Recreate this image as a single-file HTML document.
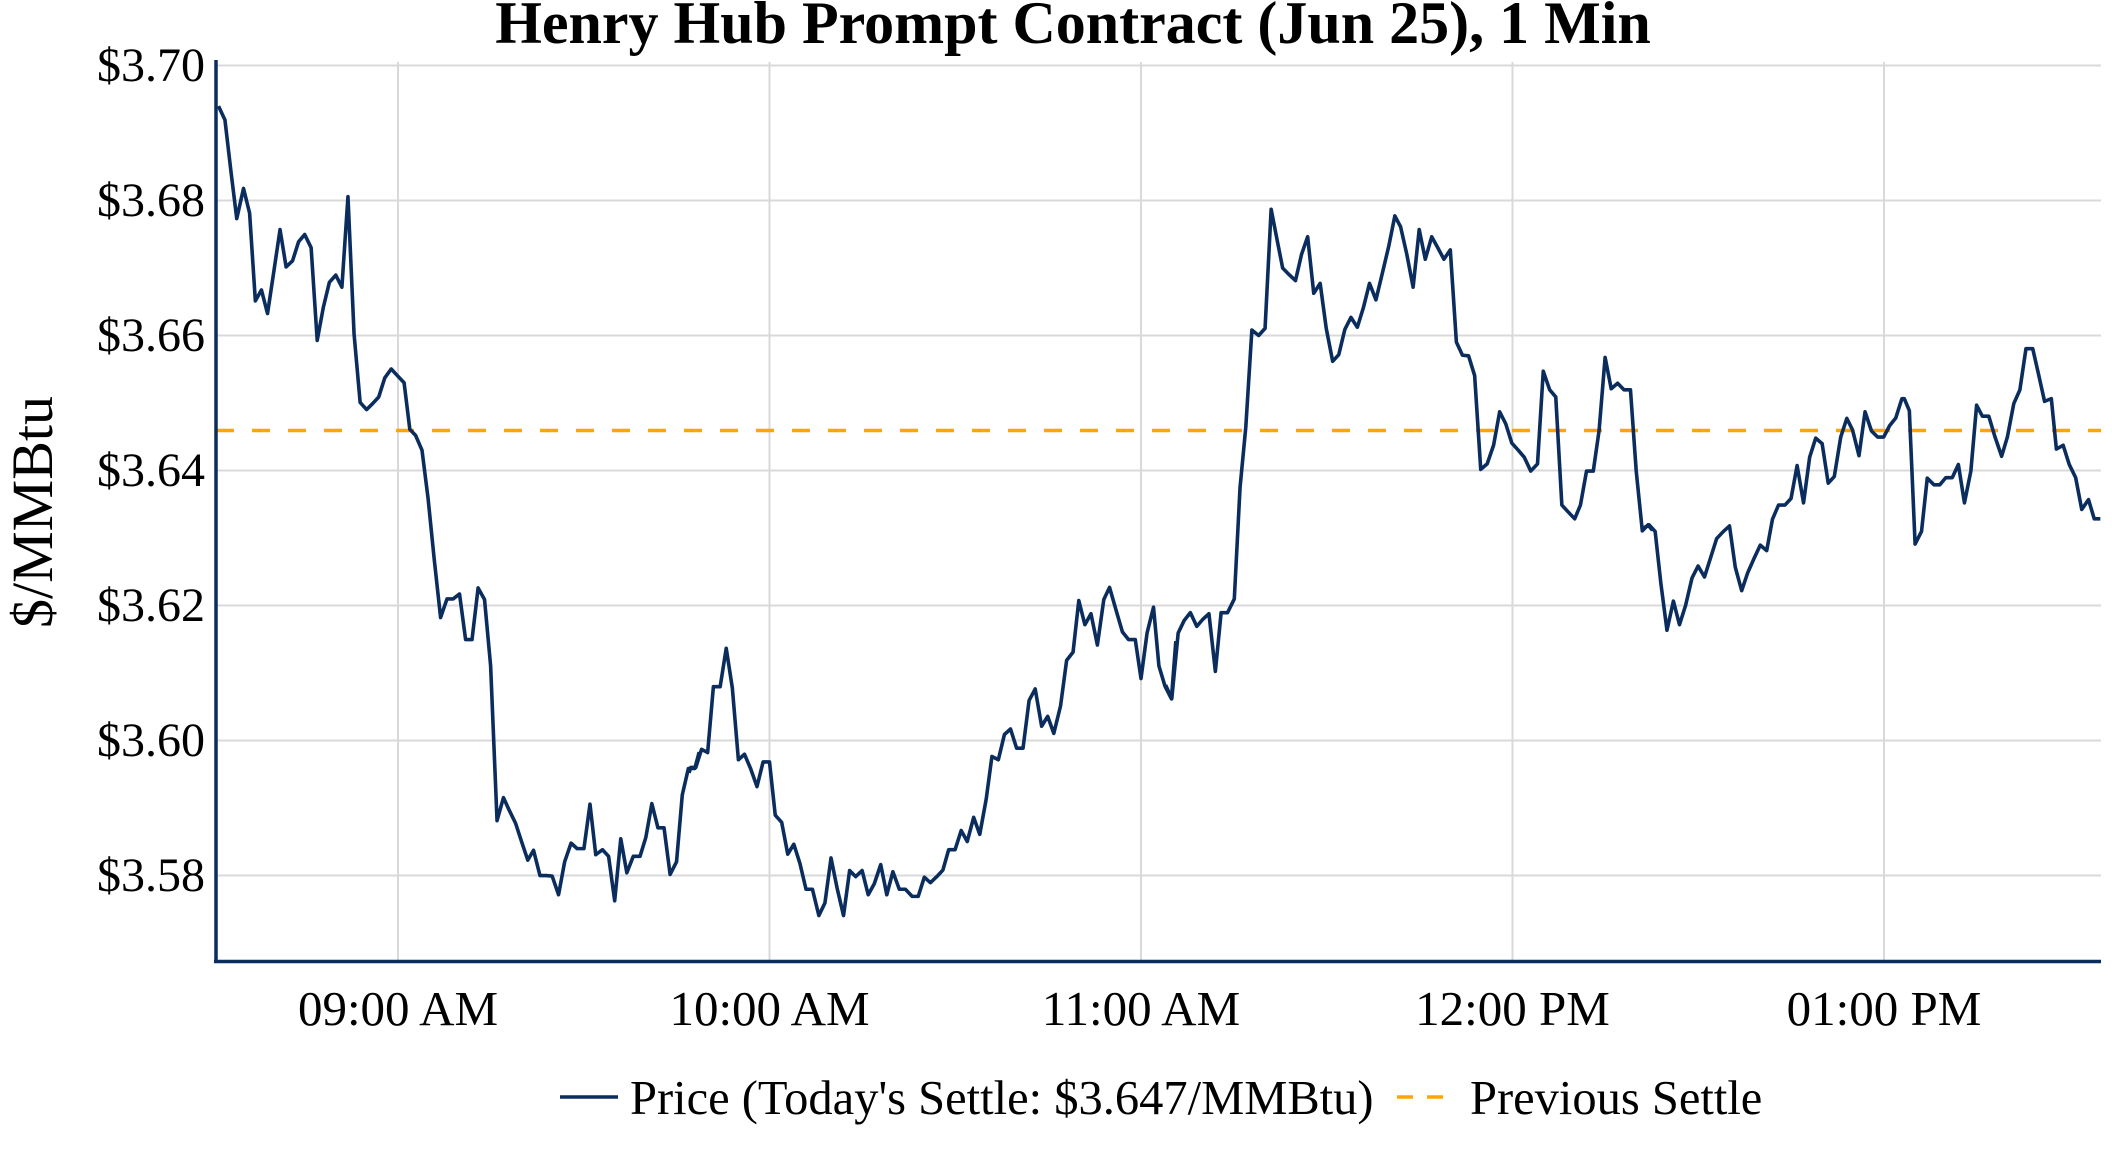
<!DOCTYPE html>
<html><head><meta charset="utf-8"><style>
html,body{margin:0;padding:0;background:#fff;}
svg{display:block;}
text{font-family:"Liberation Serif",serif;fill:#000;}
</style></head><body>
<svg width="2112" height="1152" viewBox="0 0 2112 1152" xmlns="http://www.w3.org/2000/svg">
<rect width="2112" height="1152" fill="#fff"/>
<g stroke="#d9d9d9" stroke-width="2">
<line x1="216" y1="65.5" x2="2101" y2="65.5"/>
<line x1="216" y1="200.5" x2="2101" y2="200.5"/>
<line x1="216" y1="335.5" x2="2101" y2="335.5"/>
<line x1="216" y1="470.5" x2="2101" y2="470.5"/>
<line x1="216" y1="605.5" x2="2101" y2="605.5"/>
<line x1="216" y1="740.5" x2="2101" y2="740.5"/>
<line x1="216" y1="875.5" x2="2101" y2="875.5"/>
<line x1="398" y1="62" x2="398" y2="961"/>
<line x1="769.5" y1="62" x2="769.5" y2="961"/>
<line x1="1141" y1="62" x2="1141" y2="961"/>
<line x1="1512.5" y1="62" x2="1512.5" y2="961"/>
<line x1="1884" y1="62" x2="1884" y2="961"/>
</g>
<line x1="216" y1="430.5" x2="2101" y2="430.5" stroke="#FFA500" stroke-width="3.5" stroke-dasharray="18,18"/>
<g fill="none" stroke="#0b2d5e" stroke-width="3.6" stroke-linejoin="round">
<polyline vector-effect="non-scaling-stroke" transform="matrix(0.33803 0 0 0.5488 212.42 81.41)" points="18,45 37,70 55,165 72,250 92,195 110,240 127,400 145,380 163,423 182,345 200,270 218,338 237,327 255,292 273,279 292,303 310,472 328,412 346,366 365,353 383,375 401,210 419,460 437,585 456,598 474,587 492,575 510,540 529,524 547,536 567,549 584,634 601,645 620,672 638,760 656,870 675,977 694,943 712,943 731,934 749,1017 768,1017 786,923 805,944 823,1065 842,1347 861,1305 878,1328 897,1352 915,1386 933,1419 950,1401 969,1447 987,1447 1005,1448 1024,1482 1042,1422 1061,1388 1079,1398 1099,1398 1117,1317 1134,1409 1154,1400 1172,1412 1190,1493 1208,1380 1226,1442 1245,1412 1265,1412 1282,1378 1300,1316 1318,1360 1336,1360 1354,1445 1373,1422 1390,1300 1408,1252 1427,1252 1440,1222"/>
<polyline vector-effect="non-scaling-stroke" transform="matrix(0.33803 0 0 0.5488 689.05 81.41)" points="0,1260 5,1250 20,1250 37,1217 55,1223 72,1103 92,1103 110,1033 128,1105 146,1236 164,1226 182,1252 201,1285 219,1240 238,1240 255,1337 274,1350 292,1408 310,1390 328,1425 346,1472 365,1472 384,1520 402,1497 420,1415 438,1470 457,1520 475,1438 493,1449 512,1438 530,1482 548,1462 567,1427 585,1482 603,1440 622,1472 640,1472 660,1485 678,1485 696,1450 714,1460 733,1449 751,1437 768,1400 787,1400 805,1365 823,1385 842,1341 860,1372 879,1308 896,1230 915,1236 933,1190 951,1180 969,1215 988,1215 1006,1128 1024,1107 1043,1175 1061,1157 1079,1188 1099,1138 1117,1055 1136,1040 1153,946 1171,990 1189,970 1208,1027 1227,944 1244,922 1263,963 1282,1003 1300,1017 1320,1017 1337,1088 1355,1005 1374,958 1390,1065 1408,1102 1427,1125 1440,1020"/>
<polyline vector-effect="non-scaling-stroke" transform="matrix(0.33803 0 0 0.5488 1165.68 81.41)" points="0,1100 18,1125 37,1005 55,982 73,968 92,993 110,980 128,970 147,1075 164,968 183,968 203,943 220,740 237,630 255,453 275,463 294,450 312,233 330,290 346,340 365,352 384,363 402,315 420,283 438,386 457,368 475,450 494,510 512,498 530,452 548,430 567,448 585,412 603,368 622,398 640,352 660,300 678,245 695,265 713,314 732,375 750,270 768,324 787,283 805,303 823,324 842,307 860,475 878,499 896,500 914,536 932,707 951,697 970,663 988,602 1006,624 1024,659 1043,672 1061,685 1080,710 1100,697 1117,528 1136,562 1154,575 1172,772 1190,784 1210,797 1227,772 1245,710 1265,710 1282,637 1300,503 1318,560 1337,550 1356,562 1375,562 1392,710 1410,819 1427,808 1440,818"/>
<polyline vector-effect="non-scaling-stroke" transform="matrix(0.33803 0 0 0.5488 1642.3 81.41)" points="0,815 20,808 38,820 55,915 73,1000 92,947 110,990 128,955 147,905 165,883 184,903 202,868 220,833 240,820 258,810 275,885 294,928 312,895 330,870 349,845 368,855 385,798 403,772 422,772 440,760 458,700 477,768 495,685 513,650 532,660 550,732 568,720 587,648 605,614 622,635 641,682 659,602 678,637 696,648 714,648 732,627 750,613 768,578 775,578 790,600 807,843 826,820 843,723 863,735 880,735 898,722 917,722 935,698 953,768 972,710 989,590 1006,610 1025,610 1043,647 1063,683 1080,648 1099,587 1117,562 1135,487 1155,487 1172,533 1190,583 1210,578 1225,670 1245,663 1263,698 1282,722 1300,780 1320,762 1337,797 1355,797"/>
</g>
<line x1="216" y1="60" x2="216" y2="963" stroke="#0b2d5e" stroke-width="3.5"/>
<line x1="214" y1="961.5" x2="2101" y2="961.5" stroke="#0b2d5e" stroke-width="3.5"/>
<text x="1073" y="43" text-anchor="middle" font-size="60" font-weight="bold">Henry Hub Prompt Contract (Jun 25), 1 Min</text>
<g font-size="48" text-anchor="end" dominant-baseline="central">
<text x="205" y="65.5">$3.70</text>
<text x="205" y="200.5">$3.68</text>
<text x="205" y="335.5">$3.66</text>
<text x="205" y="470.5">$3.64</text>
<text x="205" y="605.5">$3.62</text>
<text x="205" y="740.5">$3.60</text>
<text x="205" y="875.5">$3.58</text>
</g>
<text transform="translate(52,512) rotate(-90)" text-anchor="middle" font-size="58">$/MMBtu</text>
<g font-size="49" text-anchor="middle">
<text x="398" y="1025">09:00 AM</text>
<text x="769.5" y="1025">10:00 AM</text>
<text x="1141" y="1025">11:00 AM</text>
<text x="1512.5" y="1025">12:00 PM</text>
<text x="1884" y="1025">01:00 PM</text>
</g>
<line x1="560" y1="1097" x2="618" y2="1097" stroke="#0b2d5e" stroke-width="3.5"/>
<text x="630" y="1114" font-size="48.5">Price (Today's Settle: $3.647/MMBtu)</text>
<line x1="1397" y1="1097" x2="1452" y2="1097" stroke="#FFA500" stroke-width="3.5" stroke-dasharray="16,14"/>
<text x="1470" y="1114" font-size="48.5">Previous Settle</text>
</svg>
</body></html>
